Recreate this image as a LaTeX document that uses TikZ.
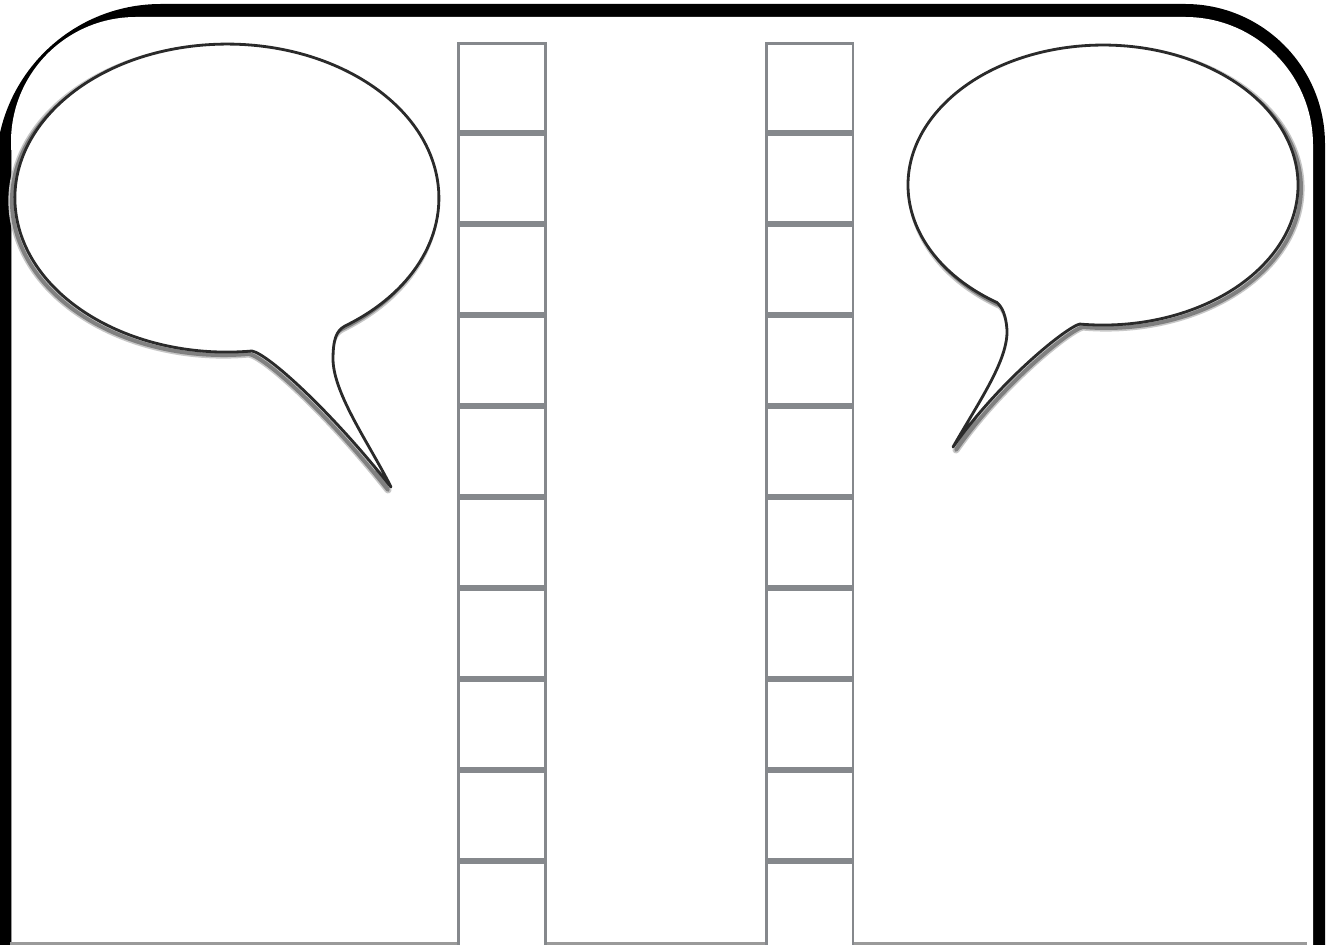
\documentclass[tikz,border=0pt]{standalone}
\definecolor{cellgray}{HTML}{85888C}
\definecolor{bubblestroke}{HTML}{2A2A2A}
\definecolor{lineGray}{HTML}{9A9A9A}
\tikzset{
  cell/.style={draw=cellgray, line width=1.7pt, minimum width=1.74cm, minimum height=1.76cm, inner sep=0pt, fill=white},
  bshadowwide/.style={draw=black!22, line width=4pt, line join=round},
  bshadow/.style={draw=black!50, line width=2.2pt, line join=round},
  bubble/.style={draw=bubblestroke, fill=white, line width=1.6pt, line join=round}
}
\newcommand\bubbleLpath{(252,351) arc[start angle=83.2,end angle=416.2,x radius=212,y radius=154] .. controls (336,331) and (333,340) .. (333,360) .. controls (334,395) and (370,445) .. (391,487) .. controls (330,410) and (268,354) .. (252,351) -- cycle}
\newcommand\bubbleRpath{(997.1,302.6) arc[start angle=122.9,end angle=456.8,x radius=195,y radius=140] .. controls (1068,326) and (1000,380) .. (953,447) .. controls (980,400) and (1008,360) .. (1007,330) .. controls (1006,315) and (1002,307) .. (997.1,302.6) -- cycle}
\begin{document}
\begin{tikzpicture}[x=0.02cm,y=-0.02cm]
\useasboundingbox (0,0) rectangle (1326,945);
\clip (0,0) rectangle (1326,945);
\fill[white] (0,0) rectangle (1326,945);
% frame
\fill[black] (-4,1000) -- (-4,169) arc[start angle=180,end angle=270,radius=165] -- (1185,4) arc[start angle=270,end angle=360,radius=140] -- (1325,1000) -- cycle;
\fill[white] (11,1000) -- (11,142) arc[start angle=180,end angle=270,radius=125] -- (1185,17) arc[start angle=270,end angle=360,radius=128] -- (1313,1000) -- cycle;
\draw[lineGray, line width=0.5pt] (11,150) -- (11,945);
\draw[lineGray, line width=1.4pt] (10,943.5) -- (1307,943.5);
% columns of cells
\foreach \i in {0,...,9} {
  \node[cell] (L\i) at (502,{87.5+91*\i}) {};
  \node[cell] (R\i) at (809.5,{87.5+91*\i}) {};
}
% left speech bubble
\begin{scope}[shift={(-3,3)}]
  \path[bshadowwide] \bubbleLpath;
  \path[bshadow] \bubbleLpath;
\end{scope}
\path[bubble] \bubbleLpath;
% right speech bubble
\begin{scope}[shift={(3,3)}]
  \path[bshadowwide] \bubbleRpath;
  \path[bshadow] \bubbleRpath;
\end{scope}
\path[bubble] \bubbleRpath;
\end{tikzpicture}
\end{document}
